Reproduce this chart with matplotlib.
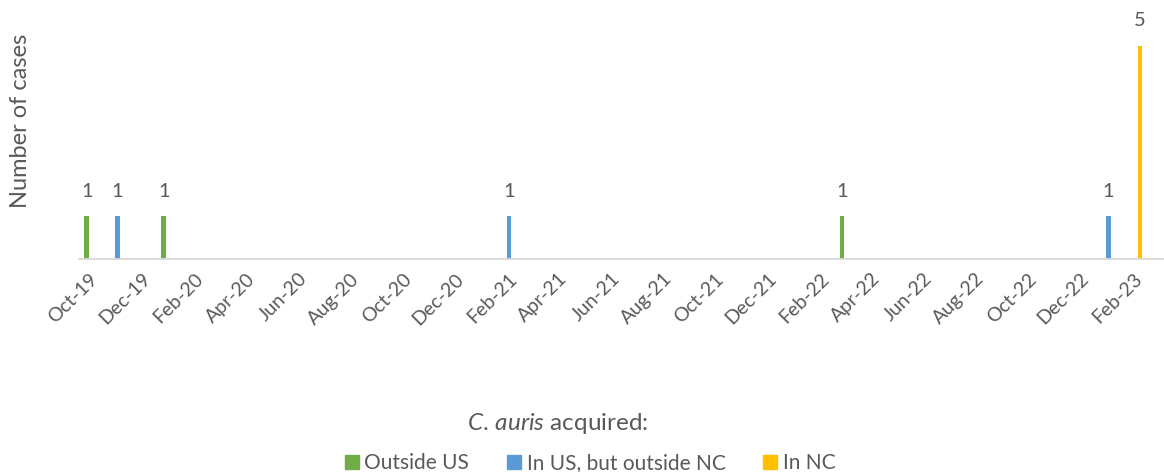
import numpy as np
import pandas as pd
import matplotlib
matplotlib.use('Agg')
import matplotlib.pyplot as plt
import matplotlib.dates as mdates
from matplotlib.lines import Line2D

plt.rcParams['font.family'] = ['Lato', 'DejaVu Sans']
plt.rcParams['mathtext.fontset'] = 'custom'
plt.rcParams['mathtext.rm'] = 'Lato'
plt.rcParams['mathtext.it'] = 'Lato:italic'

TEXT = '#595959'

# case dates and counts, grouped by where C. auris was acquired
outsideUsDates = ['2019-09-28', '2019-12-27', '2022-02-26']
outsideUsCases = [1, 1, 1]
inUsDates = ['2019-11-03', '2021-02-02', '2023-01-03']
inUsCases = [1, 1, 1]
inNcDates = ['2023-02-09']
inNcCases = [5]

series = [
    ('Outside US', outsideUsDates, outsideUsCases, '#70AD47'),
    ('In US, but outside NC', inUsDates, inUsCases, '#5B9BD5'),
    ('In NC', inNcDates, inNcCases, '#FFC000'),
]

fig = plt.figure(figsize=(11.64, 4.72), dpi=100)
ax = fig.add_axes([79 / 1164, 213 / 472, 1 - 79 / 1164, 213 / 472])

handles = []
for name, dates, cases, color in series:
    x = pd.to_datetime(dates)
    rects = ax.bar(x, cases, width=5.5, color=color, label=name)
    for rect, val in zip(rects, cases):
        ax.annotate(str(val),
                    xy=(rect.get_x() + rect.get_width() / 2, rect.get_height()),
                    xytext=(0, 12), textcoords='offset points',
                    ha='center', va='bottom', fontsize=14.5, color=TEXT,
                    annotation_clip=False)
    handles.append(Line2D([], [], marker='s', linestyle='none', markersize=10.5,
                          markerfacecolor=color, markeredgecolor=color, label=name))

ax.set_xlim(pd.Timestamp('2019-09-19'), pd.Timestamp('2023-03-09'))
ax.set_ylim(0, 5)

ax.xaxis.set_major_locator(mdates.MonthLocator(bymonth=[2, 4, 6, 8, 10, 12]))
ax.xaxis.set_major_formatter(mdates.DateFormatter('%b-%y'))
for lbl in ax.get_xticklabels():
    lbl.set_rotation(45)
    lbl.set_ha('right')
    lbl.set_rotation_mode('anchor')
ax.tick_params(axis='x', length=0, pad=8, labelsize=14, labelcolor=TEXT)
ax.set_yticks([])

for side in ['top', 'right', 'left']:
    ax.spines[side].set_visible(False)
ax.spines['bottom'].set_color('#D9D9D9')
ax.spines['bottom'].set_linewidth(1.3)

fig.text(21 / 1164, 1 - 121 / 472, 'Number of cases', rotation=90,
         ha='center', va='center', fontsize=17, color=TEXT)

fig.text(558 / 1164, 1 - 423 / 472, r'$\mathit{C.\,auris}$ acquired:',
         ha='center', va='center', fontsize=17.5, color=TEXT)

fig.legend(handles=handles, loc='center', bbox_to_anchor=(590 / 1164, 1 - 463 / 472),
           ncol=3, frameon=False, fontsize=15, labelcolor=TEXT,
           handlelength=0.7, handletextpad=0.25, columnspacing=1.8)

fig.savefig('out.png', dpi=100)
